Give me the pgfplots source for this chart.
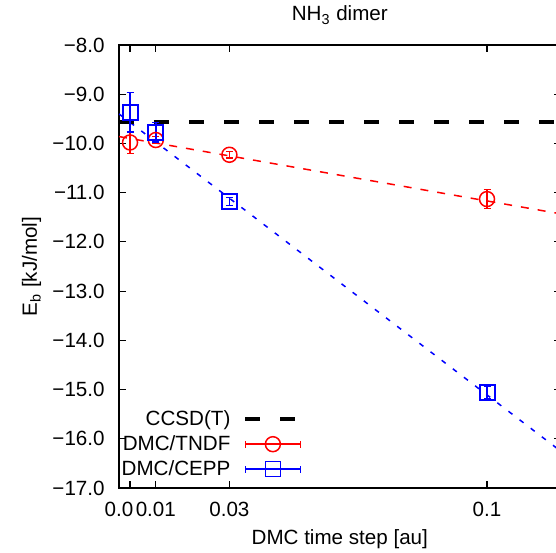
\documentclass[border=0pt]{standalone}
\usepackage{fontspec}
\setmainfont{Liberation Sans}
\usepackage{pgfplots}
\pgfplotsset{compat=1.18}
\pgfplotsset{
  errleg/.style={legend image code/.code={
      \draw[##1] (0pt,0pt) -- (27.5pt,0pt);
      \draw[##1] (0pt,-1.75pt) -- (0pt,1.75pt);
      \draw[##1] (27.5pt,-1.75pt) -- (27.5pt,1.75pt);
      \draw[##1, mark=#1, mark size=3.75pt] plot coordinates {(13.75pt,0pt)};}},
  lineleg/.style={legend image code/.code={\draw[##1] (0pt,0pt) -- (27.5pt,0pt);}},
}

\begin{document}
\begin{tikzpicture}[font=\fontsize{10.3}{12.5}\selectfont]
\begin{axis}[
    at={(0,0)}, anchor=south west,
    scale only axis,
    width=220.8pt, height=221.5pt,
    xmin=0, xmax=0.12,
    ymin=-17, ymax=-8,
    xtick={0,0.003,0.01,0.03,0.1},
    xticklabels={0.0,,0.01,0.03,0.1},
    ytick={-17,-16,-15,-14,-13,-12,-11,-10,-9,-8},
    yticklabels={−17.0,−16.0,−15.0,−14.0,−13.0,−12.0,−11.0,−10.0,−9.0,−8.0},
    tick align=inside,
    major tick length=3.5pt,
    axis line style={line width=0.8pt},
    tick style={line width=0.6pt, black},
    xticklabel style={anchor=base, inner sep=0pt, yshift=-14pt},
    yticklabel style={anchor=east, inner sep=0pt, xshift=-7pt},
    title={NH\textsubscript{3} dimer},
    every axis title shift=0pt,
    title style={at={(axis description cs:0.5,1.0542)}, anchor=base, inner sep=0pt},
    xlabel={DMC time step [au]},
    xlabel style={at={(axis description cs:0.5,-0.1275)}, anchor=base, inner sep=0pt},
    ylabel={E\textsubscript{b} [kJ/mol]},
    ylabel style={at={(axis description cs:-0.1857,0.5)}, anchor=base, inner sep=0pt},
    legend plot pos=right,
    legend cell align=right,
    legend style={draw=none, fill=none, inner sep=0pt,
      nodes={inner sep=0pt}, column sep=6.5pt, row sep=3.5pt,
      at={(axis description cs:0.4162,0.0215)}, anchor=south east},
  ]
  % fitted lines
  \addplot[forget plot, red, line width=0.75pt, dash pattern=on 4pt off 4.5pt] coordinates {(0,-9.86) (0.12,-11.43)};
  \addplot[forget plot, blue, line width=0.75pt, dash pattern=on 2.5pt off 4.5pt] coordinates {(0,-9.40) (0.12,-16.25)};
  % CCSD(T) reference
  \addplot[forget plot, black, line width=2pt, dash pattern=on 7.5pt off 10pt] coordinates {(0,-9.56) (0.12,-9.56)};
  % DMC/TNDF
  \addplot[forget plot, only marks, red, mark=o, mark size=3.75pt, mark options={line width=0.75pt},
    error bars/.cd, y dir=both, y explicit,
    error bar style={line width=0.75pt},
    error mark options={rotate=90, mark size=1.75pt, line width=0.75pt}]
    coordinates {
      (0.003,-9.98) +- (0,0.22)
      (0.01,-9.93) +- (0,0.07)
      (0.03,-10.23) +- (0,0.07)
      (0.1,-11.13) +- (0,0.19)
    };
  % DMC/CEPP
  \addplot[forget plot, only marks, blue, mark=square, mark size=3.75pt, mark options={line width=1pt},
    error bars/.cd, y dir=both, y explicit,
    error bar style={line width=0.75pt},
    error mark options={rotate=90, mark size=1.75pt, line width=0.75pt}]
    coordinates {
      (0.003,-9.37) +- (0,0.40)
      (0.01,-9.77) +- (0,0.20)
      (0.03,-11.18) +- (0,0.08)
      (0.1,-15.06) +- (0,0.12)
    };
  \addlegendimage{black, line width=2pt, dash pattern=on 7.5pt off 10pt, lineleg}
  \addlegendentry{CCSD(T)}
  \addlegendimage{red, line width=0.75pt, errleg=o}
  \addlegendentry{DMC/TNDF}
  \addlegendimage{blue, line width=0.75pt, errleg=square}
  \addlegendentry{DMC/CEPP}
\end{axis}
\pgfresetboundingbox
\useasboundingbox (-59.5pt,-32pt) rectangle (218.5pt,244pt);
\end{tikzpicture}
\end{document}
